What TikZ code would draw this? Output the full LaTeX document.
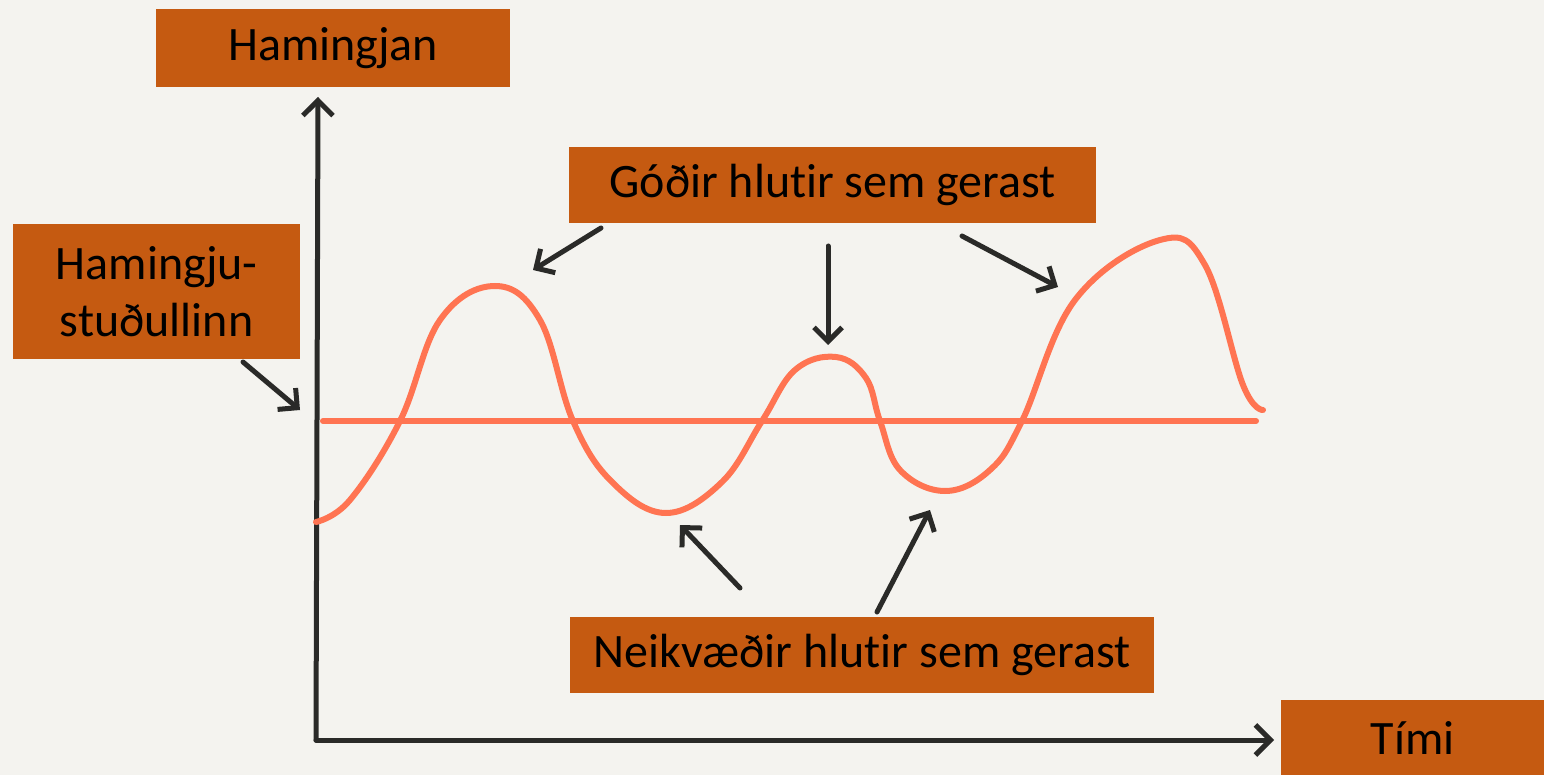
\documentclass[tikz,border=0pt]{standalone}
\usepackage{fontspec}
\setmainfont{Carlito}[Ligatures={NoCommon}]
\usetikzlibrary{arrows.meta}
\definecolor{paper}{HTML}{F4F3EF}
\definecolor{boxorange}{HTML}{C55A11}
\definecolor{coral}{HTML}{FF7452}
\definecolor{ink}{HTML}{2A2A28}
\begin{document}
\begin{tikzpicture}[x=1pt, y=-1pt, font=\fontsize{48}{57}\selectfont,
  lbl/.style={fill=boxorange, text=black, inner sep=0pt, anchor=north west, align=center},
  axis/.style={ink, line width=5pt, line cap=round, -{Straight Barb[length=15pt, width=30pt, line width=5pt]}},
  ptr/.style={ink, line width=5pt, line cap=round, -{Straight Barb[length=14pt, width=28pt, line width=5pt]}},
  wave/.style={coral, line width=6pt, line cap=round}]
  \useasboundingbox (0,0) rectangle (1544,775);
  \fill[paper] (0,0) rectangle (1544,775);
  % ásar
  \coordinate (o) at (316,740);
  \coordinate (ytop) at (318,97);
  \coordinate (xend) at (1274,740);
  \draw[axis] (o) -- (ytop);
  \draw[axis] (o) -- (xend);
  % stuðullinn og sveiflan
  \coordinate (s0) at (323,421);
  \coordinate (s1) at (1256,421);
  \draw[wave] (s0) -- (s1);
  \draw[wave] plot[smooth, tension=0.65] coordinates {
    (316,522) (350,500) (400,421) (440,320) (495,286) (540,320)
    (573,421) (612,482) (666,513) (722,482) (762,421) (795,370)
    (836,357) (866,378) (880,421) (900,470) (945,491) (990,470)
    (1022,421) (1075,300) (1160,240) (1205,265) (1243,385) (1263,410)};
  % merkimiðar
  \node[lbl, minimum width=354pt, minimum height=78pt] (hamingjan) at (156,9) {Hamingjan};
  \node[lbl, minimum width=287pt, minimum height=135pt] (studull) at (13,224) {Hamingju-\\stuðullinn};
  \node[lbl, minimum width=527pt, minimum height=76pt] (godir) at (569,147) {Góðir hlutir sem gerast};
  \node[lbl, minimum width=584pt, minimum height=76pt] (neikv) at (570,617) {Neikvæðir hlutir sem gerast};
  \node[lbl, minimum width=263pt, minimum height=75pt] (timi) at (1281,700) {Tími};
  % örvar
  \coordinate (a0) at (243,362);  \coordinate (b0) at (300,410);
  \coordinate (a1) at (601,228);  \coordinate (b1) at (533,270);
  \coordinate (a2) at (828,246);  \coordinate (b2) at (828,345);
  \coordinate (a3) at (962,236);  \coordinate (b3) at (1058,287);
  \coordinate (a4) at (740,588);  \coordinate (b4) at (680,525);
  \coordinate (a5) at (877,612);  \coordinate (b5) at (930,510);
  \foreach \i in {0,...,5}
    \draw[ptr] (a\i) -- (b\i);
\end{tikzpicture}
\end{document}
